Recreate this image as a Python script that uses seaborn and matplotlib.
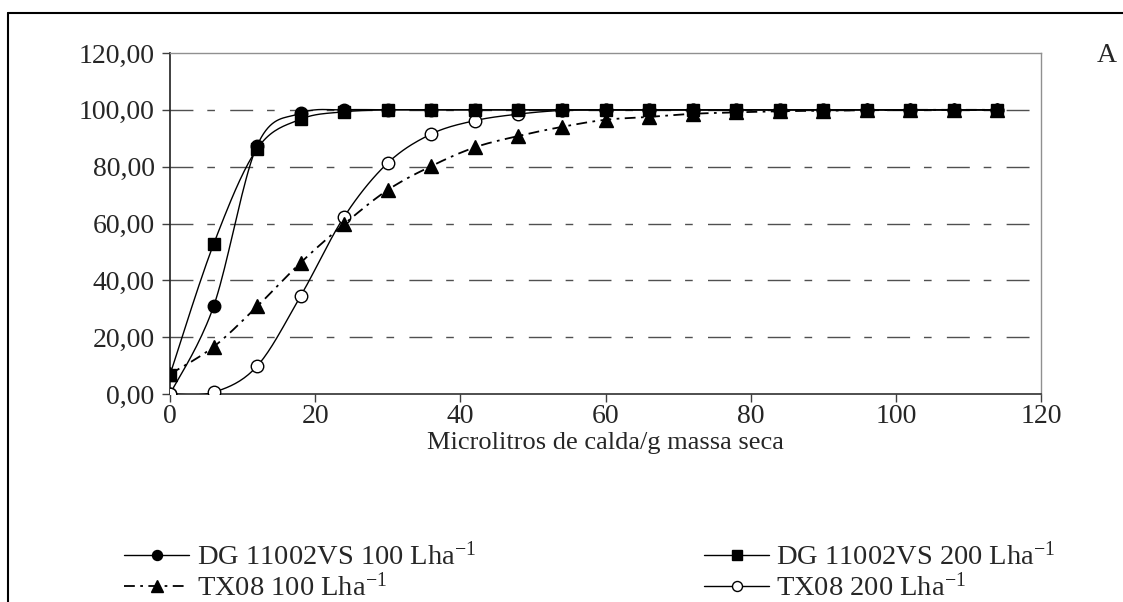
import numpy as np
import pandas as pd
import matplotlib
matplotlib.use("Agg")
import matplotlib.pyplot as plt
from matplotlib.lines import Line2D
import seaborn as sns

# ---------------- data ----------------
x_vals = [0, 6, 12, 18, 24, 30, 36, 42, 48, 54, 60, 66, 72, 78, 84, 90, 96, 102, 108, 114]
dg_100 = [0, 30.8, 87.4, 98.8, 100, 100, 100, 100, 100, 100, 100, 100, 100, 100, 100, 100, 100, 100, 100, 100]
dg_200 = [6.8, 52.7, 86.3, 96.7, 99.3, 100, 100, 100, 100, 100, 100, 100, 100, 100, 100, 100, 100, 100, 100, 100]
tx_100 = [7.0, 16.6, 30.8, 46.2, 59.8, 71.8, 80.2, 86.8, 90.8, 94.0, 96.5, 97.5, 98.6, 99.1, 99.5, 99.7, 99.9, 100, 100, 100]
tx_200 = [0, 0.6, 9.8, 34.5, 62.4, 81.3, 91.5, 96.2, 98.5, 99.8, 100, 100, 100, 100, 100, 100, 100, 100, 100, 100]
labels = ["DG 11002VS 100 Lha$^{-1}$", "DG 11002VS 200 Lha$^{-1}$",
          "TX08 100 Lha$^{-1}$", "TX08 200 Lha$^{-1}$"]
x_ticks = [0, 20, 40, 60, 80, 100, 120]
x_ticklabels = ["0", "20", "40", "60", "80", "100", "120"]
y_ticks = [0, 20, 40, 60, 80, 100, 120]
y_ticklabels = ["0,00", "20,00", "40,00", "60,00", "80,00", "100,00", "120,00"]
x_label = "Microlitros de calda/g massa seca"
panel_label = "A"

# ---------------- style ----------------
sns.set_theme(style="white")
plt.rcParams["font.family"] = ["Liberation Serif", "DejaVu Serif"]
plt.rcParams["mathtext.fontset"] = "custom"
plt.rcParams["mathtext.rm"] = "Liberation Serif"
plt.rcParams["mathtext.it"] = "Liberation Serif:italic"
plt.rcParams["mathtext.bf"] = "Liberation Serif:bold"
FS_TICK = 20
FS_LABEL = 19
FS_LEG = 20.5


def smooth(xs, ys, n=20):
    """Catmull-Rom style smoothing (like spreadsheet 'smoothed line') for drawing."""
    xs = np.asarray(xs, float)
    ys = np.asarray(ys, float)
    px = np.concatenate([[xs[0]], xs, [xs[-1]]])
    py = np.concatenate([[ys[0]], ys, [ys[-1]]])
    out_x, out_y = [], []
    t = np.linspace(0, 1, n, endpoint=False)
    for i in range(1, len(px) - 2):
        for arr, out in ((px, out_x), (py, out_y)):
            p0, p1, p2, p3 = arr[i - 1], arr[i], arr[i + 1], arr[i + 2]
            seg = 0.5 * ((2 * p1) + (-p0 + p2) * t + (2 * p0 - 5 * p1 + 4 * p2 - p3) * t ** 2
                         + (-p0 + 3 * p1 - 3 * p2 + p3) * t ** 3)
            out.extend(seg)
    out_x.append(xs[-1])
    out_y.append(ys[-1])
    return np.array(out_x), np.array(out_y)


fig = plt.figure(figsize=(11.23, 6.02), dpi=100)
ax = fig.add_axes([170 / 1123, 1 - 394 / 602, (1041 - 170) / 1123, (394 - 53) / 602])

# outer frame (top and left visible)
fig.add_artist(Line2D([8 / 1123, 8 / 1123], [1 - 13 / 602, 0], transform=fig.transFigure,
                      color="black", lw=1.5))
fig.add_artist(Line2D([8 / 1123, 1.0], [1 - 13 / 602, 1 - 13 / 602], transform=fig.transFigure,
                      color="black", lw=1.5))

# gridlines
for yv in y_ticks[1:-1]:
    ax.axhline(yv, color="#505050", lw=1.0, linestyle=(0, (16.5, 10, 5.5, 11)), zorder=0)

# (values, style, z-order) ; squares drawn on top as in the reference
series = [
    (dg_100, dict(marker="o", mfc="black", ms=9, ls="-", lw=1.0), 3),
    (dg_200, dict(marker="s", mfc="black", ms=8.5, ls="-", lw=1.0), 6),
    (tx_100, dict(marker="^", mfc="black", ms=10, ls=(0, (6, 3, 1.5, 3)), lw=1.3), 5),
    (tx_200, dict(marker="o", mfc="white", ms=9, ls="-", lw=1.0), 4),
]

handles = []
for ys, st, z in series:
    sx, sy = smooth(x_vals, ys)
    sns.lineplot(x=sx, y=sy, ax=ax, color="black", lw=st["lw"], linestyle=st["ls"],
                 sort=False, estimator=None, zorder=z)
    df = pd.DataFrame({"x": x_vals, "y": ys})
    ax.plot(df["x"], df["y"], linestyle="none", marker=st["marker"], ms=st["ms"],
            mfc=st["mfc"], mec="black", mew=1.0, zorder=z + 0.5)
    handles.append(Line2D([], [], color="black", lw=st["lw"], linestyle=st["ls"],
                          marker=st["marker"], ms=st["ms"] * 0.8, mfc=st["mfc"],
                          mec="black", mew=1.0))

ax.set_xlim(0, 120)
ax.set_ylim(0, 120)
ax.set_xticks(x_ticks)
ax.set_xticklabels(x_ticklabels, fontsize=FS_TICK)
ax.set_yticks(y_ticks)
ax.set_yticklabels(y_ticklabels, fontsize=FS_TICK)
ax.tick_params(axis="both", direction="out", length=6, width=1.0, color="#404040",
               left=True, bottom=True, pad=5)
ax.tick_params(axis="x", pad=1)
ax.set_xlabel(x_label, fontsize=FS_LABEL, labelpad=2)

for side in ["top", "right"]:
    ax.spines[side].set_visible(True)
    ax.spines[side].set_color("#909090")
    ax.spines[side].set_linewidth(1.0)
ax.spines["left"].set_color("#202020")
ax.spines["left"].set_linewidth(1.2)
ax.spines["bottom"].set_color("#303030")
ax.spines["bottom"].set_linewidth(1.2)
ax.set_facecolor("white")

fig.text(1107 / 1123, 1 - 56 / 602, panel_label, fontsize=FS_TICK, ha="center", va="center")

order = [0, 2, 1, 3]
leg = fig.legend([handles[i] for i in order], [labels[i] for i in order],
                 loc="upper left", bbox_to_anchor=(124 / 1123, 1 - 542 / 602),
                 ncol=2, frameon=False, fontsize=FS_LEG, handlelength=2.3,
                 handletextpad=0.25, columnspacing=8.0, labelspacing=0.1,
                 borderpad=0, borderaxespad=0)

fig.savefig("out.png", dpi=100, facecolor="white")
